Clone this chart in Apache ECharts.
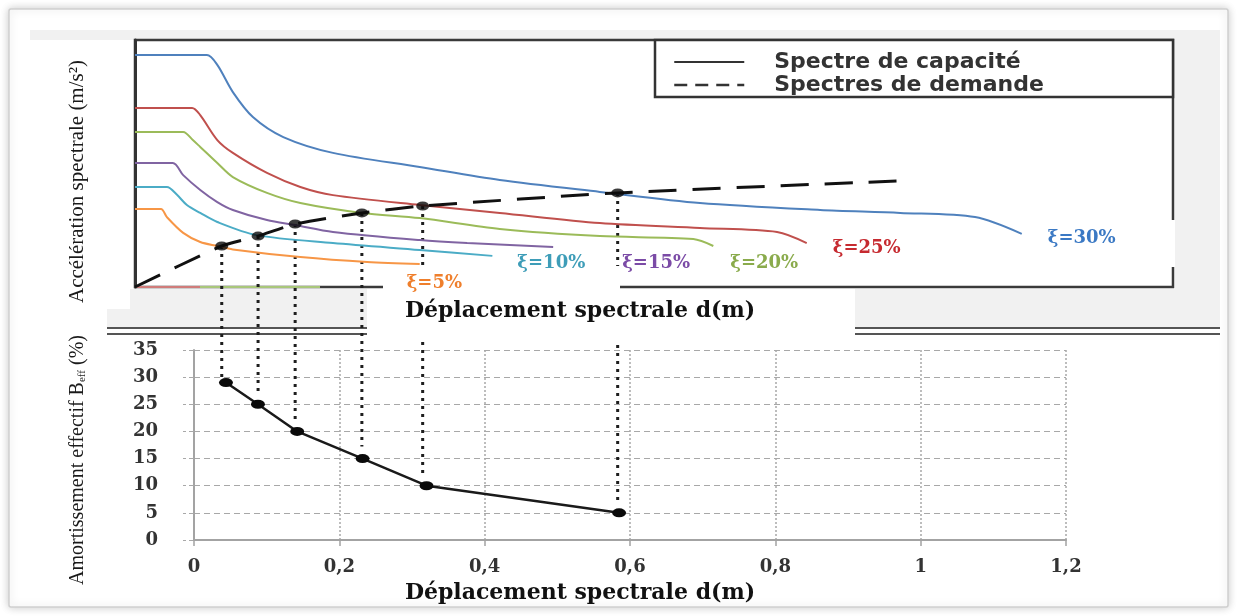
<!DOCTYPE html>
<html lang="fr">
<head>
<meta charset="utf-8">
<title>Spectre de capacité et amortissement effectif</title>
<script src="https://cdn.jsdelivr.net/npm/echarts@6/dist/echarts.min.js"></script>
<style>
  html, body { margin: 0; padding: 0; background: #ffffff; }
  #chart { width: 1237px; height: 616px; }
</style>
</head>
<body>
<div id="chart"></div>
<script>
// ---- Graphique supérieur : courbes [d, Sa] dans le repère du graphique (axes non gradués)
const courbeXi30 = [[0, 9.39], [0.097, 9.39], [0.111, 8.99], [0.132, 7.89], [0.159, 6.88], [0.200, 6.07], [0.267, 5.43], [0.384, 4.86], [0.492, 4.33], [0.627, 3.85], [0.762, 3.40], [0.924, 3.12], [1.032, 3.00], [1.133, 2.83], [1.196, 2.15]];
const courbeXi25 = [[0, 7.25], [0.077, 7.25], [0.088, 6.96], [0.111, 5.95], [0.132, 5.43], [0.178, 4.62], [0.223, 4.05], [0.267, 3.72], [0.384, 3.32], [0.492, 3.00], [0.627, 2.59], [0.762, 2.39], [0.866, 2.23], [0.906, 1.78]];
const courbeXi20 = [[0, 6.28], [0.065, 6.28], [0.078, 5.95], [0.088, 5.67], [0.111, 5.02], [0.132, 4.45], [0.178, 3.81], [0.223, 3.40], [0.306, 3.00], [0.384, 2.79], [0.492, 2.35], [0.627, 2.06], [0.753, 1.94], [0.780, 1.66]];
const courbeXi15 = [[0, 5.02], [0.051, 5.02], [0.065, 4.53], [0.088, 3.93], [0.111, 3.44], [0.132, 3.12], [0.178, 2.71], [0.216, 2.51], [0.267, 2.23], [0.384, 1.90], [0.448, 1.78], [0.564, 1.62]];
const courbeXi10 = [[0, 4.05], [0.043, 4.05], [0.057, 3.72], [0.070, 3.32], [0.088, 3.00], [0.111, 2.63], [0.164, 2.10], [0.267, 1.78], [0.384, 1.50], [0.482, 1.26]];
const courbeXi5 = [[0, 3.16], [0.035, 3.16], [0.043, 2.83], [0.065, 2.19], [0.088, 1.82], [0.111, 1.66], [0.132, 1.52], [0.223, 1.21], [0.313, 1.01], [0.384, 0.93]];

// Courbe en tirets noirs et ses points d'intersection
const capacite = [[0, 0], [0.117, 1.66], [0.166, 2.06], [0.216, 2.55], [0.306, 3.00], [0.388, 3.28], [0.651, 3.81], [1.028, 4.29]];
const pointsPerformance = capacite.slice(1, 7);

// ---- Graphique inférieur : amortissement effectif en fonction du déplacement
const dPerformance = [0.044, 0.088, 0.142, 0.232, 0.32, 0.585];
const betaEff = [29, 25, 20, 15, 10, 5];

// Graduations du graphique inférieur
const dMin = 0, dMax = 1.2, dPas = 0.2;
const betaMin = 0, betaMax = 35, betaPas = 5;

const nomsCourbes = ['ξ=30%', 'ξ=25%', 'ξ=20%', 'ξ=15%', 'ξ=10%', 'ξ=5%'];
const donneesCourbes = [courbeXi30, courbeXi25, courbeXi20, courbeXi15, courbeXi10, courbeXi5];

// Styles et placement des étiquettes ξ (décalage depuis la fin de chaque courbe)
const couleursCourbes = ['#4f81bd', '#c0504d', '#9bbb59', '#8064a2', '#4bacc6', '#f79646'];
const couleursEtiquettes = ['#3b79c4', '#c62a30', '#8aab4c', '#7b4ba6', '#3e9db8', '#ef7f2c'];
const decalagesEtiquettes = [[26, 4], [26, 5], [17, 17], [69, 16], [25, 7], [-13, 19]];

const serifGras = { fontFamily: 'DejaVu Serif', fontWeight: 'bold' };

const chart = echarts.init(document.getElementById('chart'), null, { renderer: 'canvas' });

const seriesCourbes = donneesCourbes.map((d, i) => ({
  type: 'line',
  name: nomsCourbes[i],
  xAxisIndex: 0, yAxisIndex: 0,
  data: d,
  smooth: 0.3,
  symbol: 'none',
  lineStyle: { color: couleursCourbes[i], width: 2 },
  itemStyle: { color: couleursCourbes[i] },
  endLabel: {
    show: true, formatter: '{a}', distance: 0, offset: decalagesEtiquettes[i],
    color: couleursEtiquettes[i], fontSize: 18, ...serifGras
  },
  emphasis: { disabled: true }
}));

const option = {
  animation: false,
  backgroundColor: '#ffffff',
  grid: [
    { left: 135, top: 40, right: 64, bottom: 329, show: true, borderColor: '#3a3a3a', borderWidth: 2.5,
      backgroundColor: 'transparent', containLabel: false, outerBoundsMode: 'none' },
    { left: 194, top: 350, right: 171, bottom: 76, containLabel: false, outerBoundsMode: 'none' }
  ],
  xAxis: [
    { gridIndex: 0, type: 'value', min: 0, max: 1.4, z: 3,
      axisLine: { show: false }, axisTick: { show: false }, axisLabel: { show: false }, splitLine: { show: false },
      name: 'Déplacement spectrale d(m)', nameLocation: 'middle', nameGap: 13,
      nameTextStyle: { fontSize: 22, color: '#111', padding: [0, 148, 0, 0], ...serifGras } },
    { gridIndex: 1, type: 'value', min: dMin, max: dMax, interval: dPas,
      axisLine: { show: true, onZero: false, lineStyle: { color: '#a3a3a3', width: 2 } },
      axisTick: { show: true, length: 6, lineStyle: { color: '#a3a3a3', width: 1.5 } },
      splitLine: { show: true, lineStyle: { color: '#a8a8a8', width: 1.5, type: [2, 2] } },
      axisLabel: { margin: 18, fontSize: 18, color: '#333', ...serifGras,
        formatter: v => String(v).replace('.', ',') },
      name: 'Déplacement spectrale d(m)', nameLocation: 'middle', nameGap: 42,
      nameTextStyle: { fontSize: 22, color: '#111', padding: [0, 100, 0, 0], ...serifGras } }
  ],
  yAxis: [
    { gridIndex: 0, type: 'value', min: 0, max: 10,
      axisLine: { show: true, onZero: false, lineStyle: { color: '#333', width: 3 } },
      axisTick: { show: false }, axisLabel: { show: false }, splitLine: { show: false },
      name: 'Accélération spectrale (m/s²)', nameLocation: 'middle', nameGap: 47,
      nameTextStyle: { fontFamily: 'Liberation Serif', fontSize: 21, color: '#1a1a1a', padding: [0, 36, 0, 0] } },
    { gridIndex: 1, type: 'value', min: betaMin, max: betaMax, interval: betaPas,
      axisLine: { show: true, onZero: false, lineStyle: { color: '#a3a3a3', width: 2 } },
      axisTick: { show: true, length: 11, lineStyle: { color: '#a8a8a8', width: 1.2, type: [5, 3] } },
      splitLine: { show: true, lineStyle: { color: '#a8a8a8', width: 1.2, type: [6, 4] } },
      axisLabel: { margin: 36, fontSize: 18, color: '#333', ...serifGras },
      name: 'Amortissement effectif B{sub|eff} (%)', nameLocation: 'middle', nameGap: 106,
      nameTextStyle: { fontFamily: 'Liberation Serif', fontSize: 20, color: '#1a1a1a', padding: [0, 30, 0, 0],
        rich: { sub: { fontFamily: 'Liberation Serif', fontSize: 11, color: '#1a1a1a', verticalAlign: 'bottom', padding: [6, 0, 0, 0] } } } }
  ],
  legend: {
    orient: 'vertical', left: 668, top: 46, itemWidth: 70, itemHeight: 14, itemGap: 1,
    selectedMode: false,
    textStyle: { fontFamily: 'DejaVu Sans', fontWeight: 'bold', fontSize: 22, color: '#333', padding: [0, 0, 0, 25] },
    data: [
      { name: 'Spectre de capacité', itemStyle: { opacity: 0 }, lineStyle: { color: '#333', width: 2, type: 'solid' } },
      { name: 'Spectres de demande', itemStyle: { opacity: 0 }, lineStyle: { color: '#333', width: 2.5, type: [13, 8] } }
    ]
  },
  series: [
    ...seriesCourbes,
    { type: 'line', name: 'Spectres de demande', xAxisIndex: 0, yAxisIndex: 0, data: capacite,
      smooth: 0.2, symbol: 'none',
      lineStyle: { color: '#111', width: 3, type: [28, 16] }, itemStyle: { color: '#111' },
      emphasis: { disabled: true } },
    { type: 'scatter', name: 'Points de performance', xAxisIndex: 0, yAxisIndex: 0, data: pointsPerformance,
      symbol: 'circle', symbolSize: [13, 9], itemStyle: { color: '#0a0a0a' }, z: 3, emphasis: { disabled: true } },
    { type: 'line', name: 'Spectre de capacité', xAxisIndex: 0, yAxisIndex: 0, data: [], symbol: 'none',
      lineStyle: { color: '#333', width: 2 }, itemStyle: { color: '#333' } },
    { type: 'line', name: 'Amortissement effectif', xAxisIndex: 1, yAxisIndex: 1,
      data: dPerformance.map((d, i) => [d, betaEff[i]]),
      symbol: 'circle', symbolSize: [14, 9], lineStyle: { color: '#1a1a1a', width: 2.5 },
      itemStyle: { color: '#0a0a0a' }, emphasis: { disabled: true } }
  ]
};

chart.setOption(option);

// Lignes de rappel pointillées entre les deux graphiques, placées via les échelles des grilles
const connecteurs = pointsPerformance.map((p, i) => {
  const haut = chart.convertToPixel({ gridIndex: 0 }, p);
  const bas = chart.convertToPixel({ gridIndex: 1 }, [dPerformance[i], betaEff[i]]);
  return {
    type: 'line', silent: true, z: 1,
    shape: { x1: haut[0], y1: haut[1], x2: haut[0], y2: bas[1] - (i === 0 ? 0 : 12) },
    style: { stroke: '#1e1e1e', lineWidth: 3, lineDash: [3, 5] }
  };
});

const gris = '#f1f1f1';
const fonds = [
  { type: 'rect', silent: true, z: -5, shape: { x: 9, y: 9, width: 1219, height: 598, r: 2 },
    style: { fill: '#ffffff', stroke: '#cfcfcf', lineWidth: 1.5, shadowBlur: 8, shadowColor: 'rgba(0,0,0,0.2)' } },
  { type: 'rect', silent: true, z: -4, shape: { x: 30, y: 30, width: 1190, height: 10 }, style: { fill: gris } },
  { type: 'rect', silent: true, z: -4, shape: { x: 1175, y: 30, width: 45, height: 298 }, style: { fill: gris } },
  { type: 'polygon', silent: true, z: -4,
    shape: { points: [[130, 289], [367, 289], [367, 328], [107, 328], [107, 309], [130, 309]] }, style: { fill: gris } },
  { type: 'rect', silent: true, z: -4, shape: { x: 855, y: 289, width: 365, height: 39 }, style: { fill: gris } },
  { type: 'line', silent: true, z: 0.5, shape: { x1: 107, y1: 328, x2: 367, y2: 328 }, style: { stroke: '#555', lineWidth: 2 } },
  { type: 'line', silent: true, z: 0.5, shape: { x1: 107, y1: 334, x2: 367, y2: 334 }, style: { stroke: '#555', lineWidth: 2 } },
  { type: 'line', silent: true, z: 0.5, shape: { x1: 855, y1: 328, x2: 1220, y2: 328 }, style: { stroke: '#555', lineWidth: 2 } },
  { type: 'line', silent: true, z: 0.5, shape: { x1: 855, y1: 334, x2: 1220, y2: 334 }, style: { stroke: '#555', lineWidth: 2 } },
  { type: 'line', silent: true, z: 0.5, shape: { x1: 136, y1: 287, x2: 200, y2: 287 }, style: { stroke: '#d07c7a', lineWidth: 2 } },
  { type: 'line', silent: true, z: 0.5, shape: { x1: 200, y1: 287, x2: 320, y2: 287 }, style: { stroke: '#a9c77a', lineWidth: 2 } }
];

const caches = [
  { type: 'rect', silent: true, z: 1.5, shape: { x: 383, y: 266, width: 237, height: 23 }, style: { fill: '#ffffff' } },
  { type: 'rect', silent: true, z: 1.5, shape: { x: 367, y: 289, width: 488, height: 52 }, style: { fill: '#ffffff' } },
  { type: 'rect', silent: true, z: 1.5, shape: { x: 1169, y: 220, width: 6, height: 47 }, style: { fill: '#ffffff' } },
  { type: 'rect', silent: true, z: 1.5, shape: { x: 655, y: 40, width: 518, height: 57 },
    style: { fill: '#ffffff', stroke: '#333', lineWidth: 2.5 } }
];

chart.setOption({ graphic: [...fonds, ...connecteurs, ...caches] });
</script>
</body>
</html>
